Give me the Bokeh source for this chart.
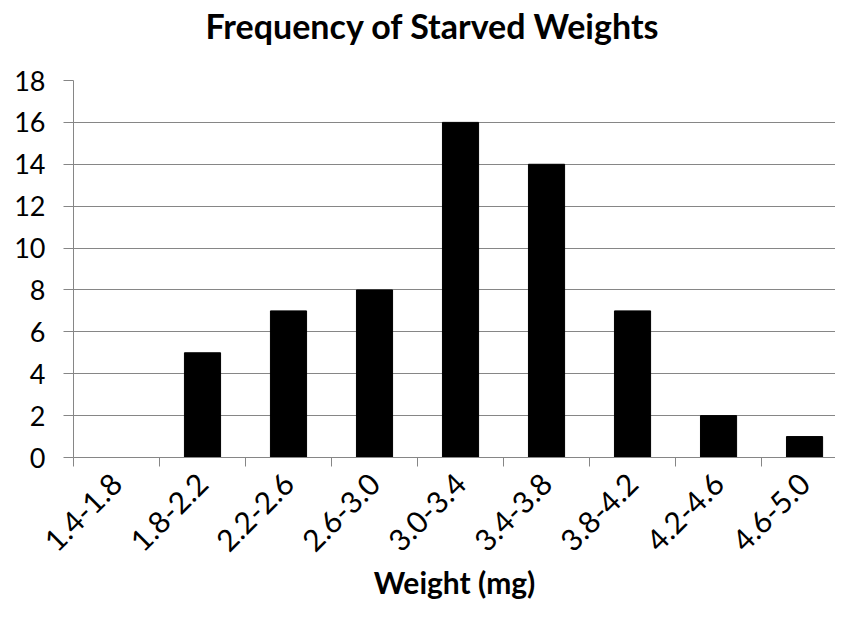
import math
from bokeh.plotting import figure
from bokeh.models import Range1d, FixedTicker, ColumnDataSource, Title
from bokeh.embed import file_html
from bokeh.resources import INLINE

categories = ["1.4-1.8", "1.8-2.2", "2.2-2.6", "2.6-3.0", "3.0-3.4",
              "3.4-3.8", "3.8-4.2", "4.2-4.6", "4.6-5.0"]
counts = [0, 5, 7, 8, 16, 14, 7, 2, 1]
y_ticks = [0, 2, 4, 6, 8, 10, 12, 14, 16, 18]
x_title = "Weight (mg)"

FONT = "Lato"
GRID = "#868686"

xs = list(range(len(categories)))
src = ColumnDataSource(dict(x=xs, top=counts, cat=categories))

p = figure(width=835, height=603,
           x_range=Range1d(-0.5, 8.36),
           y_range=Range1d(0, 18),
           output_backend="svg", toolbar_location=None,
           min_border_left=73, min_border_right=0,
           min_border_top=80, min_border_bottom=146)

p.vbar(x="x", top="top", width=0.42, bottom=0, source=src,
       fill_color="black", line_color="black")

p.title.text = "Frequency of Starved Weights"
p.title.align = "left"
p.title.text_font = FONT
p.title.text_font_style = "bold"
p.title.text_font_size = "34px"
p.title.text_color = "black"
p.title.offset = 132
p.title.standoff = 0

# empty spacer panel between the title and the frame
p.add_layout(Title(text=" ", text_font_size="1px", standoff=32), "above")

p.outline_line_color = None
p.xgrid.grid_line_color = None
p.ygrid.grid_line_color = GRID
p.ygrid.grid_line_width = 1
p.ygrid.ticker = FixedTicker(ticks=y_ticks)

# y axis
ya = p.yaxis[0]
ya.ticker = FixedTicker(ticks=y_ticks)
ya.axis_line_color = GRID
ya.major_tick_line_color = GRID
ya.major_tick_out = 10
ya.major_tick_in = 0
ya.minor_tick_line_color = None
ya.major_label_text_font = FONT
ya.major_label_text_font_size = "27px"
ya.major_label_text_color = "black"
ya.major_label_standoff = 18

# x axis
xa = p.xaxis[0]
xa.ticker = FixedTicker(ticks=xs, minor_ticks=[i - 0.5 for i in range(len(categories))])
xa.major_label_overrides = {i: c for i, c in zip(xs, categories)}
xa.major_tick_line_color = None
xa.minor_tick_line_color = GRID
xa.minor_tick_out = 9
xa.minor_tick_in = 0
xa.axis_line_color = GRID
xa.major_label_orientation = math.pi / 4
xa.major_label_text_font = FONT
xa.major_label_text_font_size = "30px"
xa.major_label_text_color = "black"
xa.major_label_standoff = 12
xa.axis_label = x_title
xa.axis_label_text_font = FONT
xa.axis_label_text_font_style = "bold"
xa.axis_label_text_font_size = "30px"
xa.axis_label_text_color = "black"
xa.axis_label_standoff = 0

open("out.html", "w").write(file_html(p, INLINE))
